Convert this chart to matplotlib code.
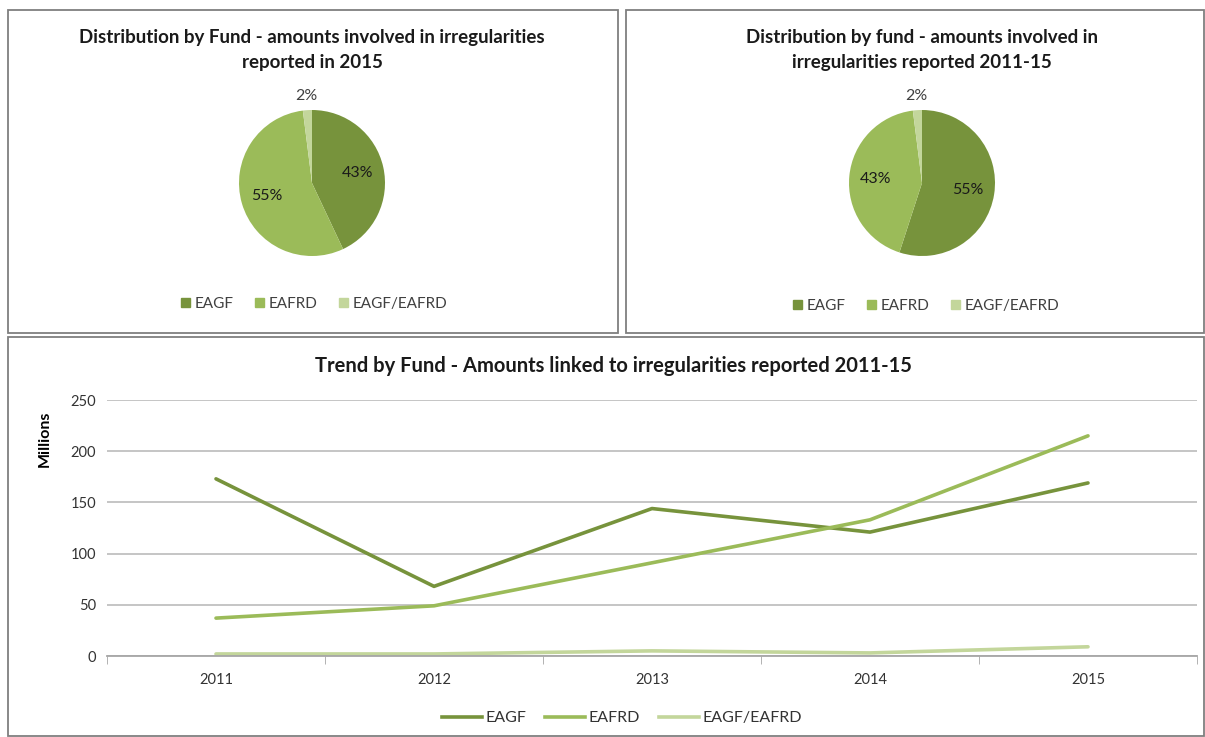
import matplotlib
matplotlib.use("Agg")
import matplotlib.pyplot as plt
from matplotlib.patches import Rectangle
from matplotlib.lines import Line2D
import numpy as np

plt.rcParams['font.family'] = ['Lato', 'DejaVu Sans']

funds = ["EAGF", "EAFRD", "EAGF/EAFRD"]
pie_2015 = [43, 55, 2]
pie_2011_15 = [55, 43, 2]
years = ["2011", "2012", "2013", "2014", "2015"]
eagf = [173, 68, 144, 121, 169]
eafrd = [37, 49, 91, 133, 215]
mixed = [2, 2, 5, 3, 9]

colors = ["#77933C", "#9BBB59", "#C3D69B"]
line_colors = ["#77933C", "#9BBB59", "#C3D69B"]

W, H = 1205, 737
fig = plt.figure(figsize=(W / 100, H / 100), dpi=100)


def fx(x):
    return x / W


def fy(y):
    return 1 - y / H


def box(x0, y0, x1, y1):
    fig.patches.append(Rectangle((fx(x0), fy(y1)), fx(x1) - fx(x0), fy(y0) - fy(y1),
                                 transform=fig.transFigure, fill=False,
                                 edgecolor="#7f7f7f", linewidth=1.3))


box(8, 10, 618, 333)
box(626, 10, 1204, 333)
box(8, 337, 1204, 736)


def draw_pie(cx, cy, r, values, title, title_y, legend_x, legend_y):
    ax = fig.add_axes([fx(cx - r), fy(cy + r), fx(2 * r), (2 * r) / H])
    wedges, _ = ax.pie(values, colors=colors, startangle=90, counterclock=False,
                       radius=1, wedgeprops=dict(linewidth=0))
    ax.set_xlim(-1, 1)
    ax.set_ylim(-1, 1)
    ax.set_aspect('auto')
    ax.axis('off')
    for w, v in zip(wedges, values):
        ang = np.deg2rad((w.theta1 + w.theta2) / 2)
        d = 1.2 if v < 5 else 0.64
        col = "#404040" if v < 5 else "#1a1a1a"
        ax.text(d * np.cos(ang), d * np.sin(ang), f"{v}%", ha="center", va="center",
                fontsize=11.5, color=col, clip_on=False)
    fig.text(fx(cx), fy(title_y), title, ha="center", va="center", fontsize=13.5,
             fontweight="bold", linespacing=1.6, color="#1a1a1a")
    handles = [Rectangle((0, 0), 1, 1, color=c) for c in colors]
    fig.legend(handles, funds, loc="center", bbox_to_anchor=(fx(legend_x), fy(legend_y)),
               ncol=3, frameon=False, fontsize=11, handlelength=0.6, handleheight=0.6,
               handletextpad=0.3, columnspacing=1.4, labelcolor="#404040")


draw_pie(312, 183, 73, pie_2015,
         "Distribution by Fund - amounts involved in irregularities\nreported in 2015",
         50, 314, 304)
draw_pie(922, 183, 73, pie_2011_15,
         "Distribution by fund - amounts involved in\nirregularities reported 2011-15",
         50, 926, 306)

# line chart
ax = fig.add_axes([fx(107), fy(656), fx(1197 - 107), (656 - 400) / H])
x = np.arange(len(years))
for vals, c, lab in zip([eagf, eafrd, mixed], line_colors, funds):
    ax.plot(x, vals, color=c, linewidth=2.6, label=lab, solid_capstyle="round")
ax.set_xlim(-0.5, len(years) - 0.5)
ax.set_ylim(0, 250)
ax.set_yticks(range(0, 251, 50))
ax.set_xticks(x)
ax.set_xticklabels(years)
ax.set_xticks(np.arange(-0.5, len(years), 1), minor=True)
ax.tick_params(axis="x", which="major", length=0, pad=12, labelsize=10.5, labelcolor="#333333")
ax.tick_params(axis="x", which="minor", length=6, color="#a6a6a6", direction="out")
ax.tick_params(axis="y", length=0, pad=8, labelsize=10.5, labelcolor="#333333")
ax.grid(axis="y", color="#c0c0c0", linewidth=1.3)
ax.set_axisbelow(True)
for s in ["top", "right", "left"]:
    ax.spines[s].set_visible(False)
ax.spines["bottom"].set_color("#a6a6a6")
ax.spines["bottom"].set_linewidth(1.3)
ax.set_ylabel("Millions", fontsize=11.5, fontweight="bold", va="center")
ax.yaxis.set_label_coords((45 - 107) / 1090, (656 - 439) / 256)
fig.text(fx(613), fy(366), "Trend by Fund - Amounts linked to irregularities reported 2011-15",
         ha="center", va="center", fontsize=14.5, fontweight="bold", color="#1a1a1a")
handles = [Line2D([0], [0], color=c, linewidth=2.6) for c in line_colors]
fig.legend(handles, funds, loc="center", bbox_to_anchor=(fx(622), fy(718)), ncol=3,
           frameon=False, fontsize=11.5, handlelength=2.5, handletextpad=0.2,
           columnspacing=1.2, labelcolor="#333333")

fig.savefig("out.png", dpi=100, facecolor="white")
